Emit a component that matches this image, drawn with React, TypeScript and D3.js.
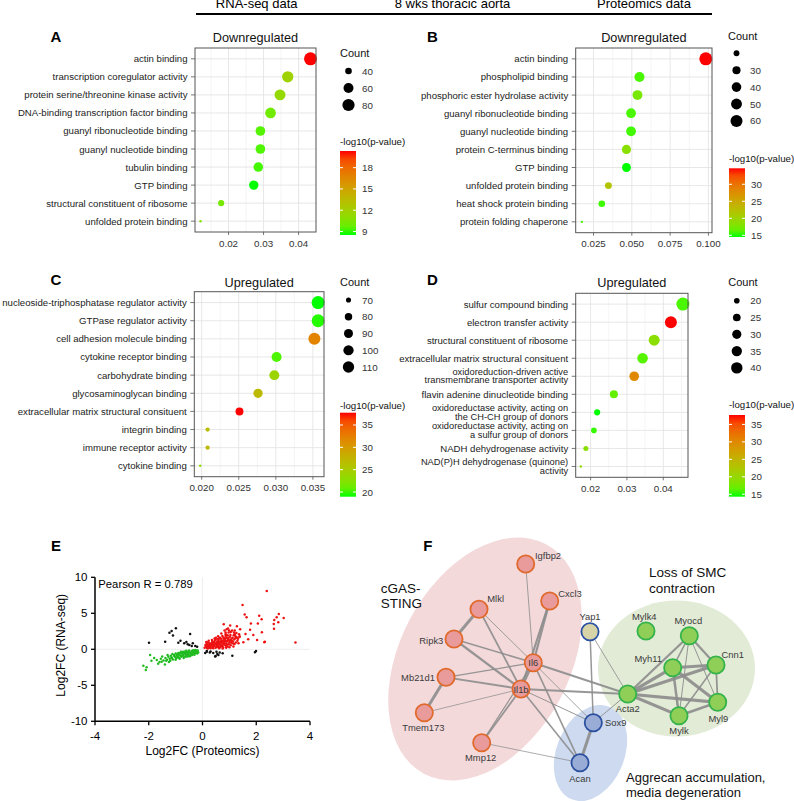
import React from "react";
import * as d3 from "d3";

const FONT = '"Liberation Sans", Arial, Helvetica, sans-serif';
const W = 794;
const H = 801;

const headerLabels = ["RNA-seq data", "8 wks thoracic aorta", "Proteomics data"];

// ---------- Panel A (RNA-seq, downregulated)
const aTerms = [
  "actin binding",
  "transcription coregulator activity",
  "protein serine/threonine kinase activity",
  "DNA-binding transcription factor binding",
  "guanyl ribonucleotide binding",
  "guanyl nucleotide binding",
  "tubulin binding",
  "GTP binding",
  "structural constituent of ribosome",
  "unfolded protein binding",
];
const aRatio = [0.0434, 0.0369, 0.0347, 0.032, 0.0291, 0.0291, 0.0285, 0.0272, 0.0179, 0.012];
const aCount = [88, 71, 68, 66, 58, 58, 57, 56, 38, 31];
const aLogP = [20.35, 11.8, 11.3, 10.0, 9.3, 9.2, 9.0, 8.5, 10.2, 10.5];
const aXTicks = [0.02, 0.03, 0.04];
const aXLabels = ["0.02", "0.03", "0.04"];
const aCountBreaks = [40, 60, 80];
const aCountLabels = ["40", "60", "80"];
const aPBreaks = [9, 12, 15, 18];

// ---------- Panel B (Proteomics, downregulated)
const bTerms = [
  "actin binding",
  "phospholipid binding",
  "phosphoric ester hydrolase activity",
  "guanyl ribonucleotide binding",
  "guanyl nucleotide binding",
  "protein C-terminus binding",
  "GTP binding",
  "unfolded protein binding",
  "heat shock protein binding",
  "protein folding chaperone",
];
const bRatio = [0.0983, 0.055, 0.0537, 0.0495, 0.0495, 0.0465, 0.0465, 0.0347, 0.0304, 0.0174];
const bCount = [70, 43, 42, 41, 41, 37, 35, 24, 23, 14];
const bLogP = [34.7, 15.5, 17.5, 15.5, 15.3, 18.5, 14.5, 22, 15.2, 15.5];
const bXTicks = [0.025, 0.05, 0.075, 0.1];
const bXLabels = ["0.025", "0.050", "0.075", "0.100"];
const bCountBreaks = [20, 30, 40, 50, 60];
const bCountLabels = ["", "30", "40", "50", "60"];
const bPBreaks = [15, 20, 25, 30];

// ---------- Panel C (RNA-seq, upregulated)
const cTerms = [
  "nucleoside-triphosphatase regulator activity",
  "GTPase regulator activity",
  "cell adhesion molecule binding",
  "cytokine receptor binding",
  "carbohydrate binding",
  "glycosaminoglycan binding",
  "extracellular matrix structural consituent",
  "integrin binding",
  "immune receptor activity",
  "cytokine binding",
];
const cRatio = [0.0357, 0.0357, 0.0352, 0.0301, 0.0298, 0.0276, 0.0251, 0.0208, 0.0208, 0.0198];
const cCount = [128, 127, 117, 98, 97, 92, 83, 68, 68, 66];
const cLogP = [18.95, 19.2, 32, 20, 24, 27, 37.75, 26.5, 27, 23];
const cXTicks = [0.02, 0.025, 0.03, 0.035];
const cXLabels = ["0.020", "0.025", "0.030", "0.035"];
const cCountBreaks = [70, 80, 90, 100, 110];
const cCountLabels = ["70", "80", "90", "100", "110"];
const cPBreaks = [20, 25, 30, 35];

// ---------- Panel D (Proteomics, upregulated)
const dTerms = [
  "sulfur compound binding",
  "electron transfer activity",
  "structural constituent of ribosome",
  "extracellular matrix structural consituent",
  "oxidoreduction-driven active\ntransmembrane transporter activity",
  "flavin adenine dinucleotide binding",
  "oxidoreductase activity, acting on\nthe CH-CH group of donors",
  "oxidoreductase activity, acting on\na sulfur group of donors",
  "NADH dehydrogenase activity",
  "NAD(P)H dehydrogenase (quinone)\nactivity",
];
const dRatio = [0.0454, 0.0421, 0.0375, 0.0343, 0.032, 0.0264, 0.0218, 0.0209, 0.0187, 0.0173];
const dCount = [49, 43, 38, 36, 32, 26, 21, 20, 19, 17];
const dLogP = [15.5, 37.7, 19, 16, 30, 16.5, 14.3, 15, 19, 19.5];
const dXTicks = [0.02, 0.03, 0.04];
const dXLabels = ["0.02", "0.03", "0.04"];
const dCountBreaks = [20, 25, 30, 35, 40];
const dCountLabels = ["20", "25", "30", "35", "40"];
const dPBreaks = [15, 20, 25, 30, 35];

// ---------- Panel E (scatter)
const eXTicks = [-4, -2, 0, 2, 4];
const eYTicks = [-10, -5, 0, 5, 10];
const eUpCloud: [number, number][] = [
  [0.08, 0.22], [0.13, 0.41], [0.17, 0.18], [0.21, 0.63], [0.24, 0.33], [0.27, 0.85], [0.3, 0.15], [0.33, 0.52],
  [0.36, 1.02], [0.38, 0.28], [0.41, 0.74], [0.44, 0.45], [0.46, 1.21], [0.49, 0.2], [0.51, 0.88], [0.54, 0.58],
  [0.56, 1.38], [0.58, 0.32], [0.61, 1.05], [0.63, 0.72], [0.65, 1.62], [0.68, 0.44], [0.7, 1.22], [0.72, 0.9],
  [0.74, 1.85], [0.77, 0.25], [0.79, 1.45], [0.81, 0.62], [0.83, 1.08], [0.86, 2.1], [0.88, 0.8], [0.9, 1.6],
  [0.93, 0.38], [0.95, 1.28], [0.97, 2.35], [1.0, 0.95], [1.02, 1.75], [1.05, 0.55], [1.08, 1.45], [1.1, 2.6],
  [1.13, 1.1], [1.16, 1.95], [1.19, 0.72], [1.22, 1.55], [1.26, 2.25], [1.3, 1.2], [1.34, 0.85], [1.38, 1.8],
  [0.15, 0.75], [0.2, 0.95], [0.25, 0.55], [0.29, 0.4], [0.34, 0.8], [0.39, 0.55], [0.43, 1.0], [0.47, 0.7],
  [0.52, 0.35], [0.55, 1.1], [0.6, 0.6], [0.64, 0.3], [0.66, 1.0], [0.69, 1.45], [0.73, 0.55], [0.76, 1.2],
  [0.8, 0.9], [0.84, 1.5], [0.87, 0.5], [0.91, 1.1], [0.94, 1.9], [0.98, 0.7], [1.03, 1.3], [1.07, 0.9],
  [1.12, 1.6], [1.18, 1.35], [1.24, 0.95], [1.28, 1.65], [0.45, 1.5], [0.58, 1.8], [0.7, 2.2], [0.82, 2.6],
  [0.95, 2.9], [1.05, 2.4], [0.62, 0.15], [0.75, 0.12], [0.88, 0.2], [1.0, 0.3], [1.15, 0.4], [0.2, 0.1],
  [0.11, 0.6], [0.35, 1.3], [0.5, 1.6], [0.78, 1.65], [1.2, 2.1], [0.9, 2.0], [0.6, 1.3], [0.4, 0.15],
  [0.14, 1.0], [0.23, 1.2], [0.31, 0.65], [0.37, 0.35], [0.42, 0.9], [0.48, 1.3], [0.53, 0.5], [0.57, 0.85],
  [0.62, 1.55], [0.67, 0.65], [0.71, 1.05], [0.74, 0.35], [0.78, 0.8], [0.83, 1.3], [0.86, 1.85], [0.89, 1.2],
  [0.92, 0.65], [0.96, 1.55], [1.01, 1.1], [1.04, 2.0], [1.09, 1.2], [1.14, 0.8], [1.17, 2.35], [1.23, 1.8],
  [1.32, 1.45], [1.36, 2.1], [0.99, 2.6], [0.86, 2.35], [0.26, 0.25], [0.18, 0.45],
];
const eUpOutliers: [number, number][] = [
  [2.39, 8.1], [1.49, 6.15], [2.84, 4.9], [2.11, 4.67], [1.57, 4.82], [1.64, 4.44], [2.76, 4.44], [3.02, 4.35],
  [2.67, 4.07], [2.65, 3.51], [1.8, 3.6], [2.06, 3.6], [0.79, 3.47], [2.66, 2.86], [0.9, 2.79], [2.21, 2.36],
  [1.89, 1.99], [1.6, 2.13], [2.03, 1.29], [2.3, 0.97], [3.46, 0.93], [1.52, 0.97], [1.38, 1.71], [1.28, 3.2],
  [1.03, 3.3], [1.2, 2.6], [1.4, 2.8], [1.7, 1.4], [1.77, 2.7], [2.2, 4.17], [2.82, 3.75], [2.32, 1.06],
];
const eDownCloud: [number, number][] = [
  [-1.45, -1.55], [-1.38, -1.2], [-1.32, -1.45], [-1.27, -1.05], [-1.22, -1.3], [-1.18, -0.9], [-1.14, -1.15],
  [-1.1, -1.4], [-1.06, -0.8], [-1.02, -1.05], [-0.98, -1.25], [-0.95, -0.7], [-0.92, -0.95], [-0.88, -1.15],
  [-0.85, -0.6], [-0.82, -0.85], [-0.79, -1.05], [-0.76, -0.5], [-0.73, -0.75], [-0.7, -0.95], [-0.67, -0.45],
  [-0.64, -0.65], [-0.61, -0.85], [-0.58, -0.38], [-0.55, -0.58], [-0.52, -0.78], [-0.49, -0.3], [-0.46, -0.5],
  [-0.43, -0.68], [-0.4, -0.25], [-0.37, -0.42], [-0.34, -0.6], [-0.31, -0.2], [-0.28, -0.38], [-0.25, -0.52],
  [-0.22, -0.18], [-0.19, -0.32], [-0.16, -0.45], [-0.9, -0.5], [-1.0, -0.6], [-0.8, -0.35], [-0.6, -0.2],
  [-0.5, -0.15], [-0.35, -0.12], [-0.7, -1.2], [-0.55, -1.0], [-0.45, -0.85], [-0.3, -0.75], [-1.2, -1.6],
  [-1.0, -1.45], [-0.85, -1.3], [-1.3, -0.8], [-1.55, -1.3], [-1.6, -1.75], [-1.5, -1.0], [-1.25, -1.75],
  [-0.65, -0.3], [-0.75, -0.6], [-0.95, -0.85], [-1.12, -0.65], [-0.2, -0.6], [-0.27, -0.1],
  [-0.87, -0.75], [-0.77, -0.9], [-0.68, -0.6], [-0.62, -1.05], [-0.57, -0.7], [-0.51, -0.45], [-0.47, -0.95],
  [-0.41, -0.55], [-0.38, -0.8], [-0.33, -0.35], [-0.29, -0.55], [-0.24, -0.3], [-0.18, -0.15], [-0.93, -1.1],
  [-1.04, -0.95], [-1.16, -1.25], [-1.35, -1.6], [-0.83, -0.5], [-0.72, -0.35], [-0.6, -0.5],
];
const eDownOutliers: [number, number][] = [
  [-2.2, -2.3], [-2.08, -2.5], [-2.11, -2.87], [-1.95, -0.79], [-1.7, -1.49], [-1.52, -1.72], [-1.8, -1.2],
  [-1.65, -2.0], [-1.4, -2.1], [-1.9, -1.6],
];
const eDiscordant: [number, number][] = [
  [-1.99, 0.92], [-1.39, 1.06], [-1.23, 2.31], [-1.15, 2.54], [-0.99, 2.92], [-0.46, 2.13], [-0.9, 0.92],
  [-0.68, 0.83], [-0.49, 0.6], [-0.36, 0.83], [-0.27, 0.46], [-0.82, 1.2], [-0.4, 0.45], [-0.6, 1.0],
  [-1.1, 1.9], [-0.55, 0.7], [-0.2, 0.35], [0.16, -0.33], [0.27, -0.46], [0.4, -0.5], [0.59, -0.79],
  [0.52, -0.33], [0.64, -0.46], [1.11, -0.88], [1.95, -0.42], [0.47, -1.0], [0.1, -0.5], [0.16, -0.24],
  [0.55, -0.65], [0.49, -0.93], [1.99, -0.24], [0.3, -0.3], [0.75, -0.55],
];
const ePearson = "Pearson R = 0.789";

// ---------- Panel F (network; layout coordinates)
const fNodes = ["Igfbp2", "Cxcl3", "Mlkl", "Ripk3", "Il6", "Mb21d1", "Il1b", "Tmem173", "Mmp12", "Yap1", "Sox9", "Acan", "Acta2", "Mylk4", "Myocd", "Myh11", "Cnn1", "Myl9", "Mylk"];
const fGroup = ["sting", "sting", "sting", "sting", "sting", "sting", "sting", "sting", "sting", "yap", "acan", "acan", "smc", "smc", "smc", "smc", "smc", "smc", "smc"];
const fLayoutX = [525.7, 549.7, 479, 454, 533.3, 446, 521, 424.3, 481.7, 590, 593.3, 580, 627.7, 646, 689.3, 672.7, 716, 717.7, 679];
const fLayoutY = [564, 601, 609.3, 639, 662.7, 677.3, 689, 712.7, 742.7, 631.7, 722.7, 762.7, 694, 631, 635.7, 667.7, 665, 702.3, 715.7];
const fEdges: [string, string, number][] = [
  ["Igfbp2", "Il6", 0.9], ["Cxcl3", "Il6", 2.2], ["Cxcl3", "Il1b", 2.2],
  ["Mlkl", "Ripk3", 3], ["Mlkl", "Il6", 0.9], ["Mlkl", "Il1b", 1.8],
  ["Ripk3", "Il6", 1.5], ["Ripk3", "Il1b", 2.2],
  ["Mb21d1", "Il6", 1.3], ["Mb21d1", "Il1b", 1.8], ["Mb21d1", "Tmem173", 3],
  ["Tmem173", "Il1b", 0.8], ["Il6", "Il1b", 2],
  ["Il6", "Acta2", 2], ["Il1b", "Acta2", 2],
  ["Il6", "Sox9", 0.9], ["Il1b", "Sox9", 1],
  ["Il6", "Acan", 1.6], ["Il1b", "Acan", 1.6],
  ["Il1b", "Mmp12", 1.8], ["Il6", "Mmp12", 1.2], ["Mmp12", "Acan", 0.8],
  ["Yap1", "Sox9", 1.5], ["Yap1", "Acta2", 0.9],
  ["Sox9", "Acan", 3], ["Sox9", "Acta2", 1],
  ["Acta2", "Myocd", 2.2], ["Acta2", "Myh11", 3.2], ["Acta2", "Cnn1", 3.2], ["Acta2", "Myl9", 3.2], ["Acta2", "Mylk", 3],
  ["Myh11", "Myocd", 1.5], ["Myh11", "Cnn1", 3], ["Myh11", "Myl9", 3], ["Myh11", "Mylk", 2.5],
  ["Myocd", "Cnn1", 2.2], ["Myocd", "Myl9", 1], ["Myocd", "Mylk", 1],
  ["Cnn1", "Myl9", 1.8], ["Cnn1", "Mylk", 1.5], ["Myl9", "Mylk", 2.5],
];
const fGroupTitles = [
  ["cGAS-", "STING"],
  ["Loss of SMC", "contraction"],
  ["Aggrecan accumulation,", "media degeneration"],
];

// ---------------- layouts (positions / styles) ----------------
const layoutA = { left: 195, right: 316, top: 48, bottom: 232, letter: "A", letterX: 50.5, letterY: 41.7, title: "Downregulated", titleY: 37.5, countX: 340, countTitleY: 53, countY0: 71, countStep: 17, cbX: 340, cbTop: 151, cbBottom: 235, cbTitleY: 141.5 };
const layoutB = { left: 575.7, right: 712, top: 48, bottom: 232.7, letter: "B", letterX: 427, letterY: 41.7, title: "Downregulated", titleY: 37.5, countX: 728, countTitleY: 35.7, countY0: 53.3, countStep: 16.9, cbX: 729, cbTop: 168.3, cbBottom: 237, cbTitleY: 158.3 };
const layoutC = { left: 194.3, right: 324, top: 291.7, bottom: 476.7, letter: "C", letterX: 50.5, letterY: 285, title: "Upregulated", titleY: 283.3, countX: 340, countTitleY: 281.7, countY0: 300, countStep: 16.75, cbX: 340, cbTop: 412.7, cbBottom: 496.7, cbTitleY: 405 };
const layoutD = { left: 575.7, right: 688, top: 293.3, bottom: 477.3, letter: "D", letterX: 427, letterY: 285, title: "Upregulated", titleY: 283, countX: 728.3, countTitleY: 282.3, countY0: 300.7, countStep: 16.8, cbX: 729, cbTop: 415, cbBottom: 496.7, cbTitleY: 404.3 };

const LOW = "#00ff00";
const HIGH = "#ff0000";

function DotPlot(props: any) {
  const { id, terms, ratio, count, logp, xTicks, xLabels, countBreaks, countLabels, pBreaks, L } = props;
  const [rmin, rmax] = d3.extent(ratio as number[]) as [number, number];
  const pad = (rmax - rmin) * 0.05;
  const x = d3.scaleLinear().domain([rmin - pad, rmax + pad]).range([L.left, L.right]);
  const y = d3.scalePoint<string>().domain(terms).range([L.top, L.bottom]).padding(0.6);
  const [cmin, cmax] = d3.extent(count as number[]) as [number, number];
  const diam = d3.scaleLinear().domain([0, 1]).range([2.4, 13]);
  const rOf = (c: number) => diam(Math.sqrt(Math.max(0, Math.min(1, (c - cmin) / (cmax - cmin))))) / 2;
  const [pmin, pmax] = d3.extent(logp as number[]) as [number, number];
  const color = d3.scaleLinear<string>().domain([pmin, pmax]).range([LOW, HIGH]).interpolate(d3.interpolateLab);
  const cb = d3.scaleLinear().domain([pmin, pmax]).range([L.cbBottom, L.cbTop]);
  const cbW = 16;

  const step = xTicks[1] - xTicks[0];
  const minor: number[] = [];
  const dom = x.domain();
  for (let v = xTicks[0] - step / 2; v <= dom[1]; v += step) {
    if (v >= dom[0]) minor.push(v);
  }

  const stops = d3.range(0, 1.0001, 0.1);
  const lineH = 8.4;

  return (
    <g fontFamily={FONT}>
      <text x={L.letterX} y={L.letterY} fontSize={15} fontWeight="bold">{L.letter}</text>
      <text x={(L.left + L.right) / 2} y={L.titleY} fontSize={12.7} textAnchor="middle" dominantBaseline="central" fill="#111">{L.title}</text>
      {minor.map((v, i) => (
        <line key={"mn" + i} x1={x(v)} x2={x(v)} y1={L.top} y2={L.bottom} stroke="#efefef" strokeWidth={0.6} />
      ))}
      {xTicks.map((v: number, i: number) => (
        <line key={"mj" + i} x1={x(v)} x2={x(v)} y1={L.top} y2={L.bottom} stroke="#e4e4e4" strokeWidth={0.9} />
      ))}
      {terms.map((t: string, i: number) => (
        <line key={"hg" + i} x1={L.left} x2={L.right} y1={y(t)} y2={y(t)} stroke="#e4e4e4" strokeWidth={0.9} />
      ))}
      {terms.map((t: string, i: number) => (
        <circle key={"pt" + i} cx={x(ratio[i])} cy={y(t)} r={rOf(count[i])} fill={color(logp[i])} />
      ))}
      <rect x={L.left} y={L.top} width={L.right - L.left} height={L.bottom - L.top} fill="none" stroke="#555" strokeWidth={1} />
      {terms.map((t: string, i: number) => {
        const lines = t.split("\n");
        const yy = y(t) as number;
        return (
          <g key={"yl" + i}>
            <line x1={L.left - 4} x2={L.left} y1={yy} y2={yy} stroke="#555" strokeWidth={0.8} />
            <text x={L.left - 7.5} y={yy} fontSize={lines.length > 1 ? 9.3 : 9.6} textAnchor="end" fill="#222">
              {lines.map((ln, j) => (
                <tspan key={j} x={L.left - 7.5} y={yy + (j - (lines.length - 1) / 2) * lineH} dominantBaseline="central">{ln}</tspan>
              ))}
            </text>
          </g>
        );
      })}
      {xTicks.map((v: number, i: number) => (
        <g key={"xt" + i}>
          <line x1={x(v)} x2={x(v)} y1={L.bottom} y2={L.bottom + 3} stroke="#555" strokeWidth={0.8} />
          <text x={x(v)} y={L.bottom + 11} fontSize={9.8} textAnchor="middle" dominantBaseline="central" fill="#333">{xLabels[i]}</text>
        </g>
      ))}
      <text x={L.countX} y={L.countTitleY} fontSize={11} dominantBaseline="central" fill="#111">Count</text>
      {countBreaks.map((c: number, i: number) => (
        <g key={"cl" + i}>
          <circle cx={L.countX + 8.5} cy={L.countY0 + i * L.countStep} r={rOf(c)} fill="#000" />
          <text x={L.countX + 22} y={L.countY0 + i * L.countStep} fontSize={9.8} dominantBaseline="central" fill="#333">{countLabels[i]}</text>
        </g>
      ))}
      <defs>
        <linearGradient id={"grad" + id} x1="0" y1="1" x2="0" y2="0">
          {stops.map((s, i) => (
            <stop key={i} offset={s} stopColor={color(pmin + s * (pmax - pmin))} />
          ))}
        </linearGradient>
      </defs>
      <text x={L.cbX} y={L.cbTitleY} fontSize={9.7} dominantBaseline="central" fill="#111">-log10(p-value)</text>
      <rect x={L.cbX} y={L.cbTop} width={cbW} height={L.cbBottom - L.cbTop} fill={`url(#grad${id})`} />
      {pBreaks.map((p: number, i: number) => (
        <g key={"cb" + i}>
          <line x1={L.cbX} x2={L.cbX + 3} y1={cb(p)} y2={cb(p)} stroke="#fff" strokeWidth={1} />
          <line x1={L.cbX + cbW - 3} x2={L.cbX + cbW} y1={cb(p)} y2={cb(p)} stroke="#fff" strokeWidth={1} />
          <text x={L.cbX + cbW + 6} y={cb(p)} fontSize={9.8} dominantBaseline="central" fill="#333">{p}</text>
        </g>
      ))}
    </g>
  );
}

function Scatter() {
  const x = d3.scaleLinear().domain([-4, 4]).range([95, 310]);
  const y = d3.scaleLinear().domain([-10, 10]).range([721.3, 577.3]);
  const pts = (arr: [number, number][], col: string, key: string) =>
    arr.map((p, i) => <circle key={key + i} cx={x(p[0])} cy={y(p[1])} r={1.25} fill={col} />);
  return (
    <g fontFamily={FONT}>
      <text x={51} y={550.7} fontSize={15} fontWeight="bold">E</text>
      <line x1={x(0)} x2={x(0)} y1={y(10)} y2={y(-10)} stroke="#eeeeee" strokeWidth={1} />
      <line x1={x(-4)} x2={x(4)} y1={y(0)} y2={y(0)} stroke="#eeeeee" strokeWidth={1} />
      {pts(eDiscordant, "#111", "k")}
      {pts(eDownCloud, "#22bb22", "g")}
      {pts(eDownOutliers, "#22bb22", "go")}
      {pts(eUpCloud, "#ee1111", "r")}
      {pts(eUpOutliers, "#ee1111", "ro")}
      <line x1={x(-4)} x2={x(-4)} y1={y(10)} y2={y(-10)} stroke="#000" strokeWidth={1.5} />
      <line x1={x(-4)} x2={x(4)} y1={y(-10)} y2={y(-10)} stroke="#000" strokeWidth={1.5} />
      {eXTicks.map((v, i) => (
        <g key={"ex" + i}>
          <line x1={x(v)} x2={x(v)} y1={y(-10)} y2={y(-10) + 4} stroke="#000" strokeWidth={1.3} />
          <text x={x(v)} y={735.7} fontSize={11.5} textAnchor="middle" dominantBaseline="central">{v}</text>
        </g>
      ))}
      {eYTicks.map((v, i) => (
        <g key={"ey" + i}>
          <line x1={x(-4) - 4} x2={x(-4)} y1={y(v)} y2={y(v)} stroke="#000" strokeWidth={1.3} />
          <text x={87.5} y={y(v)} fontSize={11.5} textAnchor="end" dominantBaseline="central">{v}</text>
        </g>
      ))}
      <text x={x(0)} y={751} fontSize={12} textAnchor="middle" dominantBaseline="central">Log2FC (Proteomics)</text>
      <text transform={`translate(61,${y(0) - 4}) rotate(-90)`} fontSize={12} textAnchor="middle" dominantBaseline="central">Log2FC (RNA-seq)</text>
      <text x={98.3} y={584} fontSize={11.3} dominantBaseline="central">{ePearson}</text>
    </g>
  );
}

const labelPos: Record<string, [number, number, string]> = {
  Igfbp2: [9.3, -9, "start"], Cxcl3: [8.6, -7.7, "start"], Mlkl: [8.3, -11, "start"], Ripk3: [-10.7, 1, "end"],
  Il6: [0, 0, "middle"], Mb21d1: [-11, 0, "end"], Il1b: [0, 0, "middle"], Tmem173: [-1, 14.6, "middle"],
  Mmp12: [-1, 15, "middle"], Yap1: [0, -15, "middle"], Sox9: [11.7, 0, "start"], Acan: [0, 16, "middle"],
  Acta2: [0, 14.7, "middle"], Mylk4: [-1.7, -15, "middle"], Myocd: [-1, -15.7, "middle"], Myh11: [-24.4, -9.4, "middle"],
  Cnn1: [16.7, -11, "middle"], Myl9: [0.6, 16, "middle"], Mylk: [0, 15, "middle"],
};
const nodeStyle: Record<string, [string, string]> = {
  sting: ["#e99a9b", "#e0692c"],
  yap: ["#d7d4a8", "#2b52a3"],
  acan: ["#98acd6", "#2b4f9f"],
  smc: ["#8fce57", "#33b34a"],
};

function Network() {
  const sx = d3.scaleLinear().domain([0, 1]).range([0, 1]);
  const sy = d3.scaleLinear().domain([0, 1]).range([0, 1]);
  const idx: Record<string, number> = {};
  fNodes.forEach((n, i) => (idx[n] = i));
  const nx = (n: string) => sx(fLayoutX[idx[n]]);
  const ny = (n: string) => sy(fLayoutY[idx[n]]);
  return (
    <g fontFamily={FONT}>
      <ellipse cx={485} cy={659} rx={130} ry={85} transform="rotate(-62 485 659)" fill="#f3d9da" />
      <ellipse cx={676.5} cy={668.5} rx={78.5} ry={68} fill="#e2ebd6" />
      <ellipse cx={590.5} cy={753} rx={50} ry={34} transform="rotate(-68 590.5 753)" fill="#cddaef" />
      <text x={423.3} y={551} fontSize={15} fontWeight="bold">F</text>
      {fEdges.map((e, i) => (
        <line key={"ed" + i} x1={nx(e[0])} y1={ny(e[0])} x2={nx(e[1])} y2={ny(e[1])} stroke="#8c8c8c" strokeWidth={e[2]} strokeOpacity={0.9} />
      ))}
      {fNodes.map((n, i) => {
        const [fill, stroke] = nodeStyle[fGroup[i]];
        return <circle key={"nd" + i} cx={nx(n)} cy={ny(n)} r={8.6} fill={fill} stroke={stroke} strokeWidth={1.8} />;
      })}
      {fNodes.map((n, i) => {
        const [dx, dy, anchor] = labelPos[n];
        return (
          <text key={"nl" + i} x={nx(n) + dx} y={ny(n) + dy} fontSize={9.4} textAnchor={anchor as any} dominantBaseline="central" fill="#3a3a3a">{n}</text>
        );
      })}
      <text fontSize={13.5} fill="#111">
        <tspan x={380.7} y={588.3} dominantBaseline="central">{fGroupTitles[0][0]}</tspan>
        <tspan x={380.7} y={603.3} dominantBaseline="central">{fGroupTitles[0][1]}</tspan>
      </text>
      <text fontSize={13.5} fill="#111">
        <tspan x={649} y={572.7} dominantBaseline="central">{fGroupTitles[1][0]}</tspan>
        <tspan x={649} y={588.3} dominantBaseline="central">{fGroupTitles[1][1]}</tspan>
      </text>
      <text fontSize={13} fill="#111">
        <tspan x={626} y={777.3} dominantBaseline="central">{fGroupTitles[2][0]}</tspan>
        <tspan x={626} y={792.3} dominantBaseline="central">{fGroupTitles[2][1]}</tspan>
      </text>
    </g>
  );
}

export default function App() {
  return (
    <svg width={W} height={H} style={{ position: "absolute", left: 0, top: 0, background: "#fff" }} fontFamily={FONT}>
      <rect x={0} y={0} width={W} height={H} fill="#fff" />
      <g fontFamily={FONT} fontSize={13}>
        <text x={256.7} y={8.3} textAnchor="middle">{headerLabels[0]}</text>
        <text x={452.5} y={8.3} textAnchor="middle">{headerLabels[1]}</text>
        <text x={644} y={8.3} textAnchor="middle">{headerLabels[2]}</text>
        <line x1={196} x2={712} y1={14} y2={14} stroke="#000" strokeWidth={2} />
      </g>
      <DotPlot id="A" terms={aTerms} ratio={aRatio} count={aCount} logp={aLogP} xTicks={aXTicks} xLabels={aXLabels} countBreaks={aCountBreaks} countLabels={aCountLabels} pBreaks={aPBreaks} L={layoutA} />
      <DotPlot id="B" terms={bTerms} ratio={bRatio} count={bCount} logp={bLogP} xTicks={bXTicks} xLabels={bXLabels} countBreaks={bCountBreaks} countLabels={bCountLabels} pBreaks={bPBreaks} L={layoutB} />
      <DotPlot id="C" terms={cTerms} ratio={cRatio} count={cCount} logp={cLogP} xTicks={cXTicks} xLabels={cXLabels} countBreaks={cCountBreaks} countLabels={cCountLabels} pBreaks={cPBreaks} L={layoutC} />
      <DotPlot id="D" terms={dTerms} ratio={dRatio} count={dCount} logp={dLogP} xTicks={dXTicks} xLabels={dXLabels} countBreaks={dCountBreaks} countLabels={dCountLabels} pBreaks={dPBreaks} L={layoutD} />
      <Scatter />
      <Network />
    </svg>
  );
}
